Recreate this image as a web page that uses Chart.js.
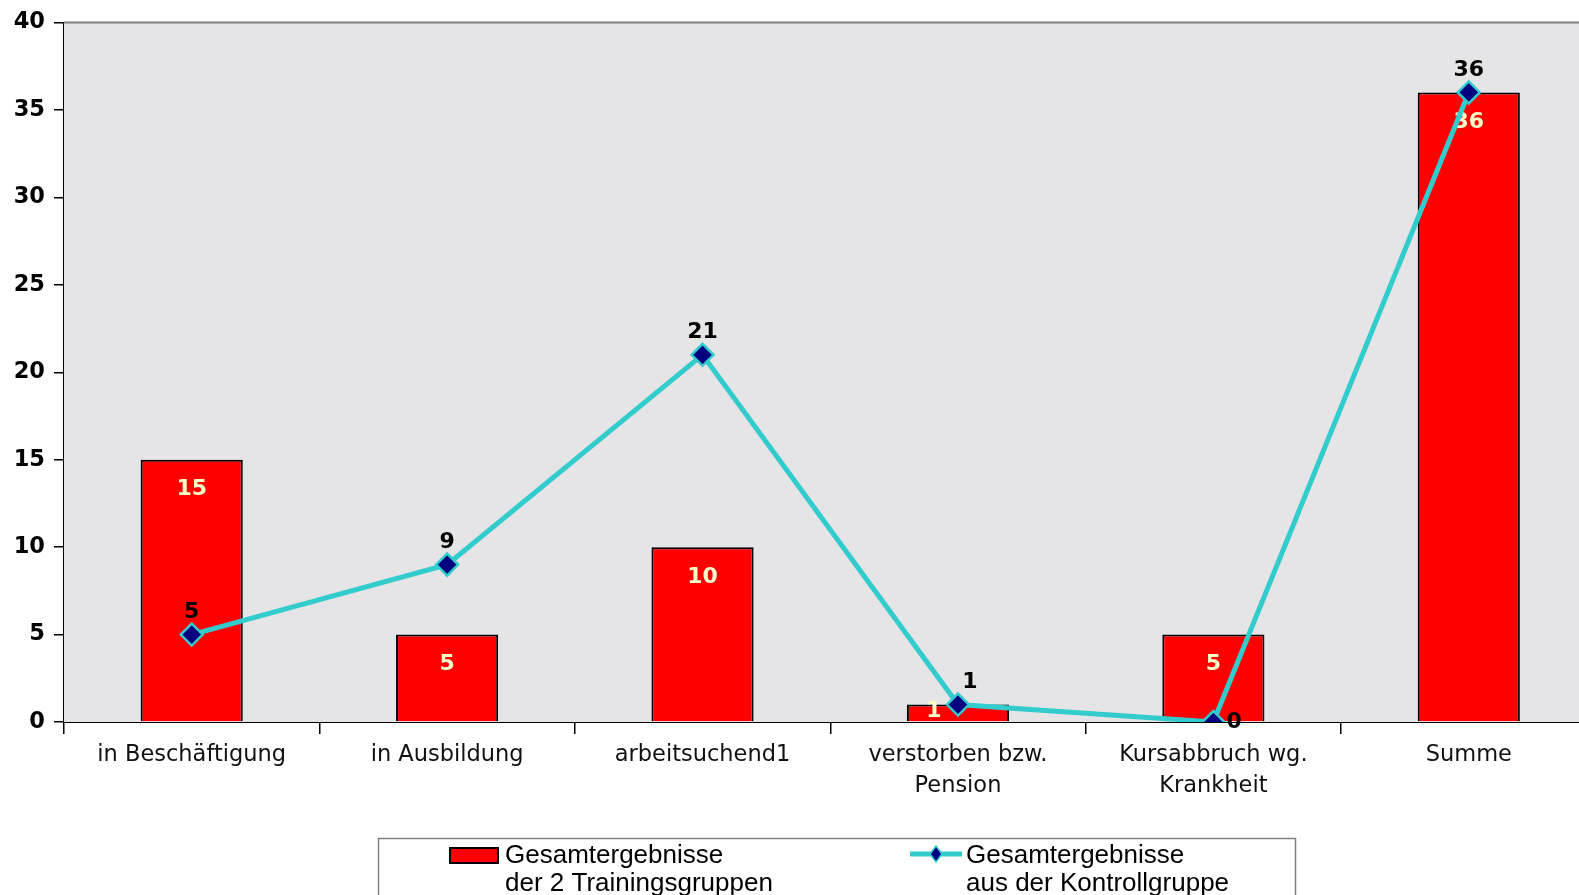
<!DOCTYPE html>
<html>
<head>
<meta charset="utf-8">
<script src="https://cdn.jsdelivr.net/npm/chart.js@4"></script>
<style>
  body { margin: 0; background: #fff; overflow: hidden; }
  #wrap { width: 1610px; height: 895px; }
</style>
</head>
<body>
<div id="wrap"><canvas id="chart" width="1610" height="895"></canvas></div>
<script>
        // Data
        const categories = [
            'in Beschäftigung',
            'in Ausbildung',
            'arbeitsuchend1',
            ['verstorben bzw.', 'Pension'],
            ['Kursabbruch wg.', 'Krankheit'],
            'Summe'
        ];
        const trainingValues = [15, 5, 10, 1, 5, 36];
        const controlValues = [5, 9, 21, 1, 0, 36];
        const trainingLabel = ['Gesamtergebnisse', 'der 2 Trainingsgruppen'];
        const controlLabel = ['Gesamtergebnisse', 'aus der Kontrollgruppe'];

        const valueFont = 'bold 22px "DejaVu Sans"';

        // Plot background + top border
        const backgroundPlugin = {
            id: 'plotBackground',
            beforeDatasetsDraw(chart) {
                const { ctx, chartArea: a } = chart;
                ctx.save();
                ctx.fillStyle = '#e5e5e8';
                ctx.fillRect(a.left, a.top, a.right - a.left, a.bottom - a.top);
                ctx.strokeStyle = '#808080';
                ctx.lineWidth = 2;
                ctx.beginPath();
                ctx.moveTo(a.left, a.top);
                ctx.lineTo(a.right, a.top);
                ctx.stroke();
                ctx.restore();
            }
        };

        // Value labels (bars inside top, line above points)
        const valueLabels = {
            id: 'valueLabels',
            afterDatasetDraw(chart, args) {
                if (args.index !== 0) return;
                const { ctx } = chart;
                const meta = chart.getDatasetMeta(0);
                ctx.save();
                ctx.font = valueFont;
                ctx.fillStyle = '#ffffcc';
                ctx.textAlign = 'center';
                ctx.textBaseline = 'middle';
                meta.data.forEach((bar, i) => {
                    const v = trainingValues[i];
                    let x = bar.x;
                    if (v <= 1) x = bar.x - 24;
                    ctx.fillText(String(v), x, Math.min(bar.y + 30, bar.base - 10));
                });
                ctx.restore();
            },
            afterDatasetsDraw(chart) {
                const { ctx } = chart;
                const meta = chart.getDatasetMeta(1);
                ctx.save();
                ctx.font = valueFont;
                ctx.fillStyle = '#000';
                ctx.textBaseline = 'middle';
                meta.data.forEach((pt, i) => {
                    const v = controlValues[i];
                    if (v === 0) {
                        ctx.textAlign = 'left';
                        ctx.fillText(String(v), pt.x + 13, pt.y);
                    } else {
                        ctx.textAlign = 'center';
                        ctx.fillText(String(v), pt.x + (v === 1 ? 12 : 0), pt.y - 22);
                    }
                });
                ctx.restore();
            }
        };

        // Legend box at the bottom (cut off by the window)
        const legendBox = {
            id: 'legendBox',
            afterDraw(chart) {
                const { ctx } = chart;
                ctx.save();
                ctx.fillStyle = '#fff';
                ctx.fillRect(378, 838, 918, 80);
                ctx.strokeStyle = '#808080';
                ctx.lineWidth = 1.5;
                ctx.strokeRect(378.5, 838.5, 917, 80);

                // bar swatch
                ctx.fillStyle = '#ff0000';
                ctx.fillRect(450, 848, 48, 15);
                ctx.strokeStyle = '#000';
                ctx.lineWidth = 2;
                ctx.strokeRect(450, 848, 48, 15);

                // line swatch
                ctx.strokeStyle = '#33cccc';
                ctx.lineWidth = 5;
                ctx.beginPath();
                ctx.moveTo(910, 854);
                ctx.lineTo(962, 854);
                ctx.stroke();
                ctx.beginPath();
                ctx.moveTo(936, 846);
                ctx.lineTo(942, 854);
                ctx.lineTo(936, 862);
                ctx.lineTo(930, 854);
                ctx.closePath();
                ctx.fillStyle = '#000080';
                ctx.fill();
                ctx.lineWidth = 1.5;
                ctx.stroke();

                ctx.fillStyle = '#000';
                ctx.font = '26px "Liberation Sans Narrow", "Liberation Sans"';
                ctx.textAlign = 'left';
                ctx.textBaseline = 'middle';
                chart.data.datasets.forEach((ds, i) => {
                    const x = i === 0 ? 505 : 966;
                    ds.label.forEach((line, j) => {
                        ctx.fillText(line, x, 856 + j * 28);
                    });
                });
                ctx.restore();
            }
        };

        new Chart(document.getElementById('chart'), {
            data: {
                labels: categories,
                datasets: [{
                    type: 'bar',
                    label: trainingLabel,
                    data: trainingValues,
                    backgroundColor: '#ff0000',
                    borderColor: '#000',
                    borderWidth: 2,
                    borderSkipped: 'bottom',
                    barPercentage: 0.4,
                    categoryPercentage: 1,
                    order: 1
                }, {
                    type: 'line',
                    label: controlLabel,
                    data: controlValues,
                    borderColor: '#33cccc',
                    borderWidth: 5,
                    pointStyle: 'rectRot',
                    pointRadius: 11,
                    pointBackgroundColor: '#000080',
                    pointBorderColor: '#33cccc',
                    pointBorderWidth: 2.5,
                    tension: 0,
                    order: 0
                }]
            },
            options: {
                responsive: false,
                animation: false,
                layout: {
                    padding: { top: 19, left: 0, right: 6, bottom: 0 }
                },
                plugins: {
                    legend: { display: false },
                    tooltip: { enabled: false }
                },
                scales: {
                    x: {
                        offset: true,
                        afterFit(scale) { scale.height = 173; },
                        border: { color: '#000', width: 2 },
                        grid: {
                            offset: true,
                            drawOnChartArea: false,
                            color: '#000',
                            tickLength: 12,
                            lineWidth: 1.5
                        },
                        ticks: {
                            color: '#111',
                            padding: 5,
                            maxRotation: 0,
                            autoSkip: false,
                            font: { family: 'DejaVu Sans', size: 22.5, lineHeight: 1.4 }
                        }
                    },
                    y: {
                        min: 0,
                        max: 40,
                        afterFit(scale) { scale.width = 64; },
                        border: { color: '#000', width: 2 },
                        grid: {
                            drawOnChartArea: false,
                            color: '#000',
                            tickLength: 10,
                            lineWidth: 1.5
                        },
                        ticks: {
                            stepSize: 5,
                            color: '#000',
                            padding: 9,
                            font: { family: 'DejaVu Sans', size: 22.5, weight: 'bold' }
                        }
                    }
                }
            },
            plugins: [backgroundPlugin, valueLabels, legendBox]
        });
</script>
</body>
</html>
